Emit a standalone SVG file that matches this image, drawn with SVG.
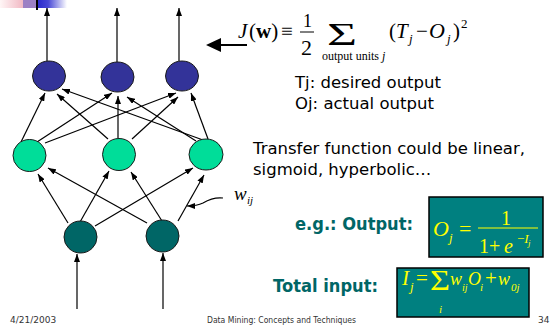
<svg xmlns="http://www.w3.org/2000/svg" width="553" height="327" viewBox="0 0 553 327">
<defs>
<marker id="ah" viewBox="0 0 8 6" refX="8" refY="3" markerWidth="8" markerHeight="6" markerUnits="userSpaceOnUse" orient="auto"><path d="M0,0 L8,3 L0,6 z" fill="#000"/></marker>
<linearGradient id="gPink" x1="0" x2="1"><stop offset="0" stop-color="#fff6f6"/><stop offset="1" stop-color="#f1b6c2"/></linearGradient>
<linearGradient id="gBlue" x1="0" x2="1"><stop offset="0" stop-color="#2a2acc"/><stop offset="0.35" stop-color="#4848d6"/><stop offset="1" stop-color="#ffffff"/></linearGradient>
</defs>
<style>
.e{stroke:#000;stroke-width:1.2;fill:none;marker-end:url(#ah)}
.n{stroke:#1a1a1a;stroke-width:1}
.out{fill:#333399}.hid{fill:#00DD99}.inp{fill:#006666}
.m{font-family:"Liberation Serif","Times New Roman",serif;fill:#000}
.it{font-style:italic}
.t{font-family:"DejaVu Sans",sans-serif;font-size:16.5px;fill:#000}
.b{font-family:"DejaVu Sans",sans-serif;font-weight:bold;font-size:18px;fill:#006666}
.f{font-family:"DejaVu Sans",sans-serif;font-size:9px;fill:#333}
.y{fill:#FFFF00;font-family:"Liberation Serif","Times New Roman",serif}
.box{fill:#008080;stroke:#000;stroke-width:1.5}
</style>
<g id="logo">
<rect x="0" y="0" width="24" height="8" fill="url(#gPink)"/>
<rect x="23" y="0" width="14" height="8" fill="#9c80c4"/>
<rect x="38" y="0" width="29" height="8" fill="url(#gBlue)"/>
<rect x="36" y="0" width="2" height="10" fill="#000"/>
</g>
<g id="connectors">
<line class="e" x1="47" y1="61" x2="47" y2="8"/>
<line class="e" x1="117" y1="62" x2="117" y2="8"/>
<line class="e" x1="179" y1="61" x2="179" y2="8"/>
<line class="e" x1="21" y1="142" x2="45" y2="93"/>
<line class="e" x1="37" y1="142" x2="112" y2="93"/>
<line class="e" x1="45" y1="143" x2="176" y2="93"/>
<line class="e" x1="108" y1="139" x2="57" y2="94"/>
<line class="e" x1="118" y1="138" x2="118" y2="96"/>
<line class="e" x1="132" y1="139" x2="178" y2="97"/>
<line class="e" x1="203" y1="140" x2="62" y2="89"/>
<line class="e" x1="196" y1="141" x2="127" y2="97"/>
<line class="e" x1="208" y1="139" x2="191" y2="93"/>
<line class="e" x1="68" y1="223" x2="38" y2="174"/>
<line class="e" x1="80" y1="222" x2="109" y2="171"/>
<line class="e" x1="95" y1="226" x2="193" y2="168"/>
<line class="e" x1="147" y1="223" x2="48" y2="168"/>
<line class="e" x1="162" y1="221" x2="131" y2="172"/>
<line class="e" x1="178" y1="221" x2="204" y2="175"/>
<line class="e" x1="77" y1="309" x2="77" y2="254"/>
<line class="e" x1="163" y1="309" x2="163" y2="253"/>
<path class="e" d="M223,198 C214,197 208,200 203,203 C199,205 195,206 187,206"/>
</g>
<g id="out1"><ellipse class="n out" cx="49" cy="76" rx="16.5" ry="15"/></g>
<g id="out2"><ellipse class="n out" cx="117.5" cy="77" rx="16.5" ry="15"/></g>
<g id="out3"><ellipse class="n out" cx="182" cy="76" rx="16.5" ry="15"/></g>
<g id="hid1"><ellipse class="n hid" cx="29.5" cy="155.5" rx="16.5" ry="16"/></g>
<g id="hid2"><ellipse class="n hid" cx="119" cy="154.5" rx="16.5" ry="16"/></g>
<g id="hid3"><ellipse class="n hid" cx="206" cy="154.5" rx="17" ry="15.5"/></g>
<g id="in1"><ellipse class="n inp" cx="80.5" cy="237" rx="16.5" ry="16"/></g>
<g id="in2"><ellipse class="n inp" cx="162.5" cy="236" rx="16.5" ry="16"/></g>
<g id="wij" class="m"><text x="234" y="200" font-size="19" class="it">w</text><text x="247" y="204" font-size="11" class="it">ij</text></g>
<g id="objective">
<line x1="247" y1="45" x2="219" y2="45" stroke="#000" stroke-width="2"/>
<path d="M206,45 L221,38 L221,52 z" fill="#000"/>
<g class="m" font-size="21">
<text x="238" y="38" class="it">J</text>
<text x="249" y="38">(<tspan font-weight="bold">w</tspan>)</text>
<text x="281" y="38">≡</text>
<text x="303" y="27" font-size="18">1</text>
<line x1="300" y1="32" x2="314" y2="32" stroke="#000" stroke-width="1"/>
<text x="301" y="55" font-size="22">2</text>
<text x="327" y="45" font-size="32" textLength="30" lengthAdjust="spacingAndGlyphs">Σ</text>
<text x="322" y="60" font-size="12">output units <tspan class="it">j</tspan></text>
<text x="389" y="38">(</text>
<text x="396" y="38" class="it">T</text>
<text x="409" y="43" font-size="13" class="it">j</text>
<text x="416" y="38">−</text>
<text x="429" y="38" font-size="22" class="it">O</text>
<text x="447" y="43" font-size="13" class="it">j</text>
<text x="453" y="38">)</text>
<text x="461" y="28" font-size="13">2</text>
</g>
</g>
<g id="notes">
<text class="t" x="295" y="88">Tj: desired output</text>
<text class="t" x="295" y="109">Oj: actual output</text>
<text class="t" x="253" y="154">Transfer function could be linear,</text>
<text class="t" x="253" y="175">sigmoid, hyperbolic…</text>
<text class="b" x="295" y="230" textLength="118" lengthAdjust="spacingAndGlyphs">e.g.: Output:</text>
<text class="b" x="273" y="292" textLength="105" lengthAdjust="spacingAndGlyphs">Total input:</text>
</g>
<g id="sigmoid">
<rect class="box" x="429" y="197" width="114" height="60"/>
<text class="y it" x="433" y="236" font-size="22">O</text>
<text class="y it" x="449" y="242" font-size="13">j</text>
<text class="y" x="459" y="236" font-size="22">=</text>
<line x1="478" y1="228" x2="538" y2="228" stroke="#FFFF00" stroke-width="1.2"/>
<text class="y" x="501" y="225" font-size="20">1</text>
<text class="y" x="479" y="253" font-size="20">1+</text>
<text class="y it" x="504" y="253" font-size="20">e</text>
<text class="y" x="517" y="243" font-size="13">−<tspan class="it">I</tspan></text>
<text class="y it" x="528" y="246" font-size="9">j</text>
</g>
<g id="totalinput">
<rect class="box" x="397" y="268" width="132" height="49"/>
<text class="y it" x="402" y="285" font-size="21">I</text>
<text class="y it" x="410" y="291" font-size="13">j</text>
<text class="y" x="416" y="285" font-size="21">=</text>
<text class="y" x="430" y="290" font-size="30" textLength="20" lengthAdjust="spacingAndGlyphs">Σ</text>
<text class="y it" x="439" y="313" font-size="11">i</text>
<text class="y it" x="450" y="285" font-size="18">w</text>
<text class="y it" x="462" y="291" font-size="10">ij</text>
<text class="y it" x="468" y="285" font-size="18">O</text>
<text class="y it" x="480" y="291" font-size="11">i</text>
<text class="y" x="485" y="285" font-size="21">+</text>
<text class="y it" x="498" y="285" font-size="18">w</text>
<text class="y it" x="511" y="291" font-size="11">0j</text>
</g>
<g id="footer">
<text class="f" x="10" y="323">4/21/2003</text>
<text class="f" x="207" y="323" textLength="149" lengthAdjust="spacingAndGlyphs">Data Mining: Concepts and Techniques</text>
<text class="f" x="538" y="323">34</text>
</g>
</svg>
